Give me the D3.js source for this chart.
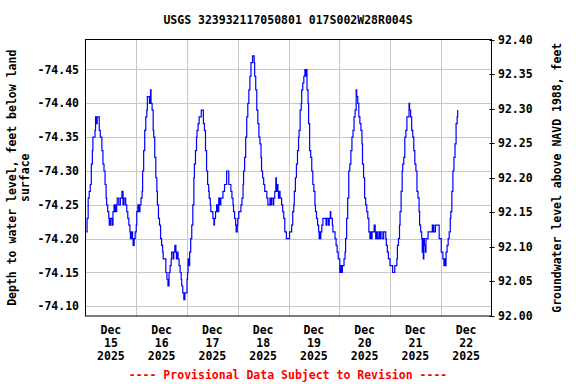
<!DOCTYPE html>
<html>

<head>
  <meta charset="utf-8">
  <title>USGS 323932117050801</title>
  <style>
    body {
      margin: 0;
      background: #fff;
    }

    text {
      font-family: "DejaVu Sans Mono", monospace;
      font-weight: bold;
      font-size: 11.5px;
    }
  </style>
  <script src="https://d3js.org/d3.v7.min.js"></script>
</head>

<body>
  <div id="chart"></div>
  <script>
    // depth to water (ft below land surface), [hour of day, value], one array per day
    const dec15 = [[0, -74.21], [0.75, -74.23], [1.25, -74.26], [1.75, -74.27], [2.25, -74.28], [2.75, -74.31], [3.25, -74.33], [3.5, -74.35], [4, -74.35], [4.5, -74.36], [4.75, -74.38], [5.25, -74.37], [5.5, -74.38], [6.25, -74.38], [6.5, -74.36], [7, -74.35], [7.75, -74.33], [8.25, -74.31], [8.75, -74.30], [9.25, -74.28], [9.75, -74.26], [10, -74.25], [10.5, -74.24], [11, -74.23], [11.25, -74.22], [11.75, -74.23], [12.5, -74.22], [13, -74.24], [13.5, -74.25], [14, -74.24], [14.25, -74.25], [14.5, -74.24], [14.75, -74.25], [15, -74.26], [15.75, -74.25], [16.5, -74.26], [17, -74.26], [17.25, -74.27], [17.75, -74.25], [18.25, -74.26], [19, -74.25], [19.5, -74.24], [20, -74.23], [20.5, -74.22], [21, -74.21], [21.25, -74.20], [21.75, -74.21], [22.25, -74.20], [22.5, -74.19], [23, -74.20], [23.5, -74.21]];
    const dec16 = [[0, -74.22], [0.25, -74.24], [0.75, -74.25], [1.25, -74.24], [1.75, -74.25], [2.25, -74.26], [2.75, -74.27], [3, -74.30], [3.5, -74.33], [4, -74.36], [4.5, -74.38], [5, -74.39], [5.25, -74.41], [5.75, -74.41], [6.25, -74.40], [6.75, -74.42], [7, -74.40], [7.5, -74.39], [8, -74.36], [8.25, -74.35], [8.75, -74.32], [9.25, -74.29], [9.75, -74.27], [10, -74.25], [10.5, -74.23], [11, -74.22], [11.5, -74.20], [12, -74.19], [12.5, -74.18], [12.75, -74.17], [13.5, -74.17], [14, -74.15], [14.5, -74.14], [15, -74.13], [15.5, -74.15], [16, -74.16], [16.5, -74.17], [16.75, -74.18], [17.25, -74.18], [17.5, -74.17], [17.75, -74.18], [18.25, -74.19], [18.75, -74.18], [19, -74.17], [19.5, -74.18], [19.75, -74.17], [20.25, -74.16], [20.75, -74.15], [21.25, -74.14], [21.5, -74.13], [22, -74.12], [22.5, -74.11], [23, -74.12], [23.5, -74.12]];
    const dec17 = [[0, -74.14], [0.25, -74.15], [0.5, -74.17], [1, -74.16], [1.25, -74.18], [1.75, -74.20], [2.25, -74.22], [2.75, -74.25], [3.25, -74.29], [3.5, -74.31], [4, -74.33], [4.5, -74.35], [4.75, -74.36], [5.25, -74.37], [5.75, -74.38], [6.25, -74.38], [6.75, -74.39], [7.25, -74.39], [7.75, -74.37], [8.25, -74.36], [8.75, -74.33], [9.25, -74.30], [9.75, -74.28], [10.25, -74.27], [10.5, -74.26], [11, -74.25], [11.25, -74.24], [11.75, -74.24], [12.25, -74.23], [12.75, -74.22], [13, -74.23], [13.5, -74.24], [14, -74.25], [14.5, -74.24], [15, -74.26], [15.5, -74.25], [16, -74.26], [16.5, -74.26], [17, -74.27], [17.25, -74.27], [17.75, -74.28], [18.25, -74.28], [18.75, -74.30], [19.25, -74.30], [19.75, -74.28], [20.25, -74.28], [20.75, -74.27], [21.25, -74.26], [21.75, -74.25], [22, -74.24], [22.5, -74.23], [23, -74.22], [23.25, -74.21], [23.75, -74.22]];
    const dec18 = [[0, -74.23], [0.5, -74.24], [1, -74.24], [1.5, -74.25], [2, -74.26], [2.5, -74.28], [2.75, -74.30], [3.25, -74.32], [3.75, -74.35], [4.25, -74.38], [4.75, -74.40], [5.25, -74.42], [5.75, -74.44], [6.25, -74.46], [6.75, -74.46], [7, -74.47], [7.5, -74.47], [7.75, -74.46], [8, -74.44], [8.5, -74.42], [9, -74.39], [9.5, -74.37], [10, -74.35], [10.5, -74.34], [11, -74.32], [11.25, -74.30], [11.75, -74.29], [12.25, -74.28], [12.75, -74.27], [13.25, -74.27], [13.75, -74.26], [14.25, -74.25], [14.75, -74.25], [15.25, -74.26], [15.5, -74.25], [15.75, -74.25], [16, -74.26], [16.5, -74.26], [16.75, -74.25], [17, -74.26], [17.5, -74.27], [18, -74.29], [18.25, -74.27], [18.5, -74.28], [19, -74.27], [19.25, -74.26], [19.5, -74.27], [20, -74.26], [20.5, -74.26], [20.75, -74.25], [21.25, -74.24], [21.75, -74.23], [22.25, -74.21], [22.75, -74.21], [23, -74.20], [23.75, -74.20]];
    const dec19 = [[0, -74.20], [0.5, -74.21], [1, -74.21], [1.5, -74.22], [2, -74.24], [2.5, -74.25], [2.75, -74.27], [3.25, -74.29], [3.75, -74.31], [4.25, -74.33], [4.75, -74.35], [5, -74.36], [5.5, -74.39], [6, -74.40], [6.25, -74.42], [6.75, -74.43], [7.25, -74.44], [7.75, -74.45], [8, -74.44], [8.25, -74.45], [8.75, -74.42], [9.25, -74.40], [9.5, -74.37], [10, -74.33], [10.5, -74.32], [11, -74.30], [11.5, -74.28], [12, -74.27], [12.5, -74.25], [12.75, -74.24], [13.25, -74.23], [13.75, -74.22], [14.25, -74.21], [14.5, -74.20], [14.75, -74.21], [15, -74.20], [15.25, -74.21], [15.75, -74.22], [16.25, -74.23], [16.75, -74.23], [17.5, -74.23], [17.75, -74.22], [18, -74.23], [18.75, -74.22], [19.25, -74.23], [19.75, -74.24], [20, -74.23], [20.25, -74.23], [20.75, -74.22], [21, -74.21], [21.5, -74.21], [22, -74.20], [22.5, -74.19], [23, -74.18], [23.5, -74.17]];
    const dec20 = [[0, -74.17], [0.25, -74.15], [0.5, -74.16], [0.75, -74.16], [1, -74.15], [1.25, -74.15], [1.5, -74.16], [1.75, -74.16], [2.25, -74.17], [2.75, -74.18], [3, -74.20], [3.5, -74.23], [4, -74.26], [4.5, -74.30], [5, -74.31], [5.5, -74.33], [6, -74.35], [6.5, -74.36], [7, -74.38], [7.5, -74.39], [8, -74.42], [8.25, -74.41], [8.75, -74.40], [9.25, -74.38], [9.75, -74.37], [10.25, -74.36], [10.75, -74.34], [11, -74.31], [11.5, -74.29], [12, -74.26], [12.5, -74.25], [13, -74.24], [13.5, -74.23], [14, -74.21], [14.5, -74.20], [15, -74.21], [15.25, -74.20], [15.5, -74.21], [16, -74.21], [16.5, -74.22], [17, -74.21], [17.25, -74.20], [17.5, -74.21], [18, -74.20], [18.25, -74.20], [18.75, -74.21], [19, -74.20], [19.5, -74.21], [20, -74.21], [20.25, -74.20], [20.5, -74.20], [21, -74.21], [21.5, -74.21], [22, -74.20], [22.25, -74.19], [22.75, -74.18], [23.25, -74.17], [23.75, -74.17]];
    const dec21 = [[0, -74.16], [0.25, -74.16], [0.75, -74.16], [1.25, -74.15], [1.75, -74.15], [2.25, -74.16], [2.75, -74.16], [3.25, -74.17], [3.5, -74.19], [4, -74.20], [4.5, -74.22], [4.75, -74.24], [5.25, -74.27], [5.75, -74.30], [6, -74.31], [6.5, -74.32], [7, -74.35], [7.5, -74.36], [8, -74.38], [8.5, -74.38], [9, -74.40], [9.25, -74.39], [9.75, -74.38], [10.25, -74.36], [10.75, -74.35], [11.25, -74.33], [11.75, -74.31], [12.25, -74.30], [12.75, -74.27], [13.25, -74.26], [13.75, -74.24], [14, -74.22], [14.5, -74.21], [15, -74.20], [15.25, -74.18], [15.5, -74.20], [15.75, -74.17], [16, -74.20], [16.25, -74.19], [16.75, -74.18], [17, -74.20], [17.5, -74.20], [18, -74.21], [18.5, -74.21], [19, -74.21], [19.5, -74.21], [20, -74.22], [20.25, -74.21], [20.5, -74.22], [20.75, -74.21], [21.25, -74.21], [21.5, -74.22], [21.75, -74.22], [22.25, -74.22], [22.75, -74.22], [23.25, -74.20], [23.75, -74.20]];
    const dec22 = [[0.25, -74.18], [0.75, -74.18], [1, -74.17], [1.5, -74.16], [2, -74.17], [2.25, -74.16], [2.5, -74.18], [3, -74.19], [3.5, -74.20], [4, -74.21], [4.5, -74.23], [4.75, -74.24], [5.25, -74.27], [5.75, -74.30], [6.25, -74.32], [6.75, -74.34], [7.25, -74.37], [7.75, -74.38], [8, -74.39]];

    const dayNames = ["15", "16", "17", "18", "19", "20", "21", "22"];
    const leftTicks = [-74.45, -74.40, -74.35, -74.30, -74.25, -74.20, -74.15, -74.10];
    const rightTicks = [92.00, 92.05, 92.10, 92.15, 92.20, 92.25, 92.30, 92.35, 92.40];

    const title = "USGS 323932117050801 017S002W28R004S";
    const width = 576, height = 384;
    const margin = { top: 39.5, right: 84.5, bottom: 68, left: 85.5 };

    const days = [dec15, dec16, dec17, dec18, dec19, dec20, dec21, dec22];
    const start = Date.UTC(2025, 11, 15);
    const data = [];
    days.forEach(function (day, i) {
      day.forEach(function (p) {
        data.push({ date: new Date(start + (i * 24 + p[0]) * 3600e3), value: p[1] });
      });
    });

    const svg = d3.select("#chart").append("svg")
      .attr("width", width)
      .attr("height", height);

    const x = d3.scaleUtc()
      .domain([new Date(start), new Date(start + 8 * 24 * 3600e3)])
      .range([margin.left, width - margin.right]);

    // left axis is inverted (depth), right axis is elevation
    const y = d3.scaleLinear()
      .domain([-74.4943, -74.0857])
      .range([margin.top, height - margin.bottom]);
    const y2 = d3.scaleLinear()
      .domain([92.40, 92.00])
      .range([margin.top, height - margin.bottom]);

    // grid
    const midnights = d3.range(1, 8).map(function (i) { return new Date(start + i * 24 * 3600e3) });
    svg.append("g").selectAll("line").data(midnights).enter().append("line")
      .attr("x1", function (d) { return Math.round(x(d)) + 0.5 })
      .attr("x2", function (d) { return Math.round(x(d)) + 0.5 })
      .attr("y1", margin.top).attr("y2", height - margin.bottom)
      .attr("stroke", "#c8c8c8");
    svg.append("g").selectAll("line").data(leftTicks).enter().append("line")
      .attr("x1", margin.left).attr("x2", width - margin.right)
      .attr("y1", function (d) { return Math.round(y(d)) + 0.5 })
      .attr("y2", function (d) { return Math.round(y(d)) + 0.5 })
      .attr("stroke", "#c8c8c8");

    // data
    const line = d3.line()
      .curve(d3.curveStepAfter)
      .x(function (d) { return x(d.date) })
      .y(function (d) { return y(d.value) });
    svg.append("path")
      .attr("d", line(data))
      .attr("fill", "none")
      .attr("stroke", "#0000ff")
      .attr("stroke-width", 1.2);

    // frame
    svg.append("rect")
      .attr("x", margin.left).attr("y", margin.top)
      .attr("width", width - margin.left - margin.right)
      .attr("height", height - margin.top - margin.bottom)
      .attr("fill", "none").attr("stroke", "#000");

    // left tick labels (plain hyphen, not unicode minus)
    svg.append("g").selectAll("text").data(leftTicks).enter().append("text")
      .attr("x", 79).attr("y", function (d) { return y(d) })
      .attr("dy", "0.35em").attr("text-anchor", "end")
      .text(function (d) { return d.toFixed(2) });

    // right ticks + labels
    const r = svg.append("g");
    r.selectAll("line").data(rightTicks).enter().append("line")
      .attr("x1", width - margin.right - 2).attr("x2", width - margin.right + 3)
      .attr("y1", function (d) { return Math.round(y2(d)) + 0.5 })
      .attr("y2", function (d) { return Math.round(y2(d)) + 0.5 })
      .attr("stroke", "#000");
    r.selectAll("text").data(rightTicks).enter().append("text")
      .attr("x", 498).attr("y", function (d) { return y2(d) })
      .attr("dy", "0.35em")
      .text(function (d) { return d.toFixed(2) });

    // date labels at noon
    const dl = svg.append("g").selectAll("text").data(dayNames).enter().append("text")
      .attr("text-anchor", "middle")
      .attr("transform", function (d, i) { return "translate(" + x(new Date(start + (i * 24 + 12) * 3600e3)) + ",0)" });
    dl.append("tspan").attr("x", 0).attr("y", 334).text("Dec");
    dl.append("tspan").attr("x", 0).attr("y", 347).text(function (d) { return d });
    dl.append("tspan").attr("x", 0).attr("y", 360).text("2025");

    svg.append("text")
      .attr("x", 288).attr("y", 24).attr("text-anchor", "middle")
      .text(title);

    svg.append("text")
      .attr("x", 288).attr("y", 379).attr("text-anchor", "middle")
      .attr("fill", "#ff0000")
      .text("---- Provisional Data Subject to Revision ----");

    const midY = (margin.top + height - margin.bottom) / 2;
    const yl = svg.append("text")
      .attr("text-anchor", "middle")
      .attr("transform", "translate(0," + midY + ") rotate(-90)");
    yl.append("tspan").attr("x", 0).attr("y", 16).text("Depth to water level, feet below land");
    yl.append("tspan").attr("x", 0).attr("y", 29).text("surface");

    svg.append("text")
      .attr("text-anchor", "middle")
      .attr("transform", "translate(561," + midY + ") rotate(-90)")
      .text("Groundwater level above NAVD 1988, feet");
  </script>
</body>

</html>
